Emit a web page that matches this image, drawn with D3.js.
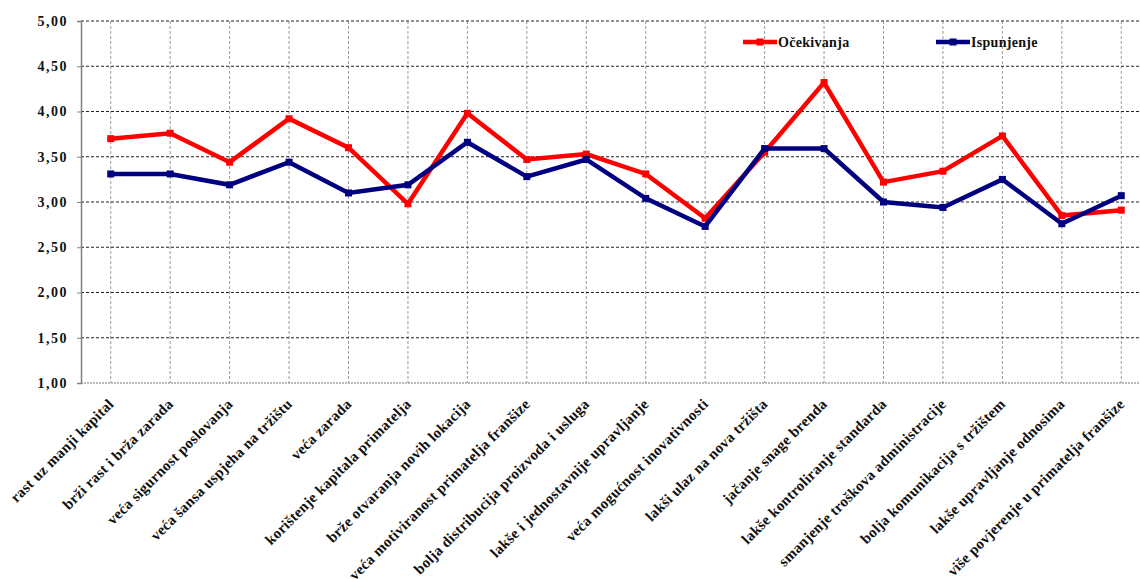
<!DOCTYPE html>
<html><head><meta charset="utf-8">
<script src="https://cdn.jsdelivr.net/npm/d3@7"></script>
<style>body{margin:0;background:#fff}svg{display:block}</style>
</head><body>
<svg id="c" width="1140" height="579"></svg>
<script>
const categories = ["rast uz manji kapital","brži rast i brža zarada","veća sigurnost poslovanja","veća šansa uspjeha na tržištu","veća zarada","korištenje kapitala primatelja","brže otvaranja novih lokacija","veća motiviranost primatelja franšize","bolja distribucija proizvoda i usluga","lakše i jednostavnije upravljanje","veća mogućnost inovativnosti","lakši ulaz na nova tržišta","jačanje snage brenda","lakše kontroliranje standarda","smanjenje troškova administracije","bolja komunikacija s tržištem","lakše upravljanje odnosima","više povjerenje u primatelja franšize"];
const ocekivanja = [3.70,3.76,3.44,3.92,3.60,2.98,3.98,3.47,3.53,3.31,2.82,3.55,4.32,3.22,3.34,3.73,2.85,2.91];
const ispunjenje = [3.31,3.31,3.19,3.44,3.10,3.19,3.66,3.28,3.47,3.04,2.73,3.59,3.59,3.00,2.94,3.25,2.76,3.07];
const yTicks = [1,1.5,2,2.5,3,3.5,4,4.5,5];
const seriesNames = ["Očekivanja","Ispunjenje"];
const seriesColors = ["#ff0000","#000080"];

const svg = d3.select("#c");
const L = 81, R = 1151, T = 21, B = 383;
const x = d3.scaleBand().domain(categories).range([L, R]).padding(0);
const cx = c => x(c) + x.bandwidth()/2;
const y = d3.scaleLinear().domain([1,5]).range([B, T]);
const fmt = v => d3.format(".2f")(v).replace(".", ",");
const FONT = "'Liberation Serif','Times New Roman',serif";

// vertical grid
svg.append("g").selectAll("line").data(categories).join("line")
  .attr("x1", d => cx(d)).attr("x2", d => cx(d)).attr("y1", T).attr("y2", B)
  .attr("stroke", "#9a9a9a").attr("stroke-width", 1).attr("stroke-dasharray", "3,2");
// horizontal grid
svg.append("g").selectAll("line").data(yTicks.filter(v => v > 1)).join("line")
  .attr("x1", L).attr("x2", R).attr("y1", d => y(d)).attr("y2", d => y(d))
  .attr("stroke", "#222").attr("stroke-width", 1).attr("stroke-dasharray", "3,2");
// bottom axis line
svg.append("line").attr("x1", L).attr("x2", R).attr("y1", y(1)).attr("y2", y(1))
  .attr("stroke", "#777").attr("stroke-width", 1.2).attr("stroke-dasharray", "2,1");

// y axis
const yAxis = d3.axisLeft(y).tickValues(yTicks).tickFormat(fmt).tickSize(4).tickPadding(9);
const ga = svg.append("g").attr("transform", `translate(${L},0)`).call(yAxis);
ga.select(".domain").attr("stroke", "#808080").attr("stroke-width", 1.5);
ga.selectAll(".tick line").attr("stroke", "#808080");
ga.selectAll("text").attr("font-family", FONT).attr("font-weight", "bold")
  .attr("font-size", 14).attr("fill", "#111").attr("letter-spacing", 1.5);

// x labels
svg.append("g").selectAll("text").data(categories).join("text")
  .attr("transform", d => `translate(${cx(d) + 4},${B + 22}) rotate(-45)`)
  .attr("text-anchor", "end").attr("font-family", FONT).attr("font-weight", "bold")
  .attr("font-size", 15).attr("letter-spacing", 0.25).attr("fill", "#111").text(d => d);

// series
const data = [ocekivanja, ispunjenje];
const line = d3.line().x((d, i) => cx(categories[i])).y(d => y(d));
data.forEach((vals, k) => {
  const g = svg.append("g");
  g.append("path").attr("d", line(vals)).attr("fill", "none")
    .attr("stroke", seriesColors[k]).attr("stroke-width", 4.5).attr("stroke-linejoin", "miter");
  g.selectAll("rect").data(vals).join("rect")
    .attr("x", (d, i) => cx(categories[i]) - 3.5).attr("y", d => y(d) - 3.5)
    .attr("width", 7).attr("height", 7).attr("fill", seriesColors[k]);
});

// legend
const legX = [743, 936];
seriesNames.forEach((n, k) => {
  const g = svg.append("g").attr("transform", `translate(${legX[k]},42)`);
  g.append("line").attr("x1", 0).attr("x2", 34).attr("y1", 0).attr("y2", 0)
    .attr("stroke", seriesColors[k]).attr("stroke-width", 4.5);
  g.append("rect").attr("x", 13.5).attr("y", -3.5).attr("width", 7).attr("height", 7).attr("fill", seriesColors[k]);
  g.append("text").attr("x", 35).attr("y", 5).attr("font-family", FONT).attr("font-weight", "bold")
    .attr("font-size", 14).attr("letter-spacing", 0.3).attr("fill", "#111").text(n);
});
</script>
</body></html>
